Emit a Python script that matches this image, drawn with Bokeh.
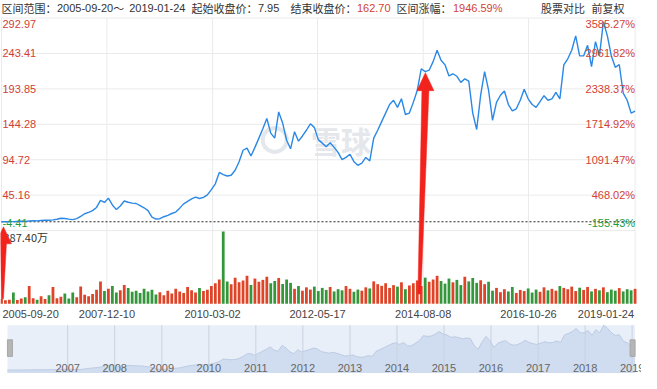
import pandas as pd
from bokeh.plotting import figure
from bokeh.models import Range1d
from bokeh.core.properties import value
from bokeh.embed import file_html
from bokeh.resources import INLINE

# ---------------- data ----------------
START_DATE = "2005-09-20"
END_DATE = "2019-01-24"
START_CLOSE = "7.95"
END_CLOSE = "162.70"
RANGE_PCT = "1946.59%"

# monthly closes (2005-09 ... 2019-01)
PRICE = [
    7.95, 8.0, 8.2, 8.1, 8.4, 8.6, 8.5, 9.0, 9.3, 9.2,
    9.8, 10.2, 10.0, 10.6, 11.5, 12.9, 12.5, 11.6, 11.0, 12.4,
    15.5, 19.2, 21.0, 23.5, 28.0, 38.0, 35.0, 41.0, 31.5, 25.0,
    30.0, 37.0, 35.2, 34.0, 33.5, 30.5, 27.5, 23.5, 14.5, 11.8,
    12.2, 15.0, 17.0, 19.5, 21.5, 27.0, 33.0, 36.5, 40.0, 42.5,
    40.5, 42.0, 45.6, 53.0, 61.0, 77.0, 74.0, 72.0, 73.0, 80.0,
    92.0, 108.0, 111.0, 100.0, 112.0, 125.0, 138.0, 152.5, 132.0, 125.0,
    161.6, 146.0, 122.0, 110.0, 134.0, 120.7, 128.0, 136.0, 145.0, 140.0,
    122.9, 118.0, 113.0, 118.4, 112.0, 105.0, 95.0, 98.0, 102.4, 92.0,
    87.0, 90.0, 98.0, 93.0, 125.0, 136.0, 148.0, 160.0, 172.0, 178.0,
    168.0, 180.0, 158.0, 160.0, 175.0, 192.0, 222.0, 218.0, 220.0, 232.0,
    248.0, 234.0, 227.5, 212.0, 215.0, 211.5, 203.0, 208.0, 204.7, 160.0,
    137.0, 185.0, 218.0, 192.0, 150.0, 175.0, 185.0, 191.0, 172.0, 163.0,
    166.0, 178.0, 193.4, 180.0, 172.0, 168.0, 176.0, 184.3, 178.0, 180.0,
    189.0, 180.0, 227.5, 236.0, 248.0, 268.0, 240.0, 240.0, 254.8, 225.0,
    260.0, 240.0, 288.0, 268.0, 240.0, 224.0, 228.0, 188.0, 178.0, 160.0,
    162.70,
]

# volume (万)
VOLUME = [
    25, 18, 22, 60, 20, 28, 35, 95, 30, 22, 40, 26, 45, 90, 30, 38, 55, 28, 60, 35, 92, 48, 40, 52,
    75, 120, 68, 80, 95, 60, 72, 100, 85, 64, 70, 58, 80, 66, 75,
    50, 62, 45, 70, 55, 80, 66, 58, 90, 72, 60, 85, 68, 75,
    95, 110, 130, 387.4, 120, 105, 140, 115, 125, 150, 100, 135, 118, 128, 145, 110, 122, 138, 106, 130, 112,
    80, 95, 70, 88, 76, 92, 68, 85, 74, 90, 66, 78, 72, 95, 80, 64, 76, 70, 88, 82,
    120, 105, 96, 110, 85, 100, 92, 115, 78, 98,
    110, 125, 95, 140, 118, 130, 150, 122, 108, 135, 115, 128, 100, 145, 120, 138, 112, 126, 105, 118,
    70, 85, 62, 78, 66, 90, 58, 74, 68, 82, 60, 76, 64, 88, 72, 80, 70, 95, 85, 78,
    92, 68, 86, 74, 90, 66, 80, 72, 88, 62, 76, 70, 84, 66, 78, 72, 80,
]
VOL_MAX = 387.40
VOL_LABEL = "387.40万"

PRICE_TICKS = [292.97, 243.41, 193.85, 144.28, 94.72, 45.16, -4.41]
PRICE_LABELS = ["292.97", "243.41", "193.85", "144.28", "94.72", "45.16", "-4.41"]
PCT_LABELS = ["3585.27%", "2961.82%", "2338.37%", "1714.92%", "1091.47%", "468.02%", "-155.43%"]
DATE_TICKS = ["2005-09-20", "2007-12-10", "2010-03-02", "2012-05-17",
              "2014-08-08", "2016-10-26", "2019-01-24"]
NAV_YEARS = [2007, 2008, 2009, 2010, 2011, 2012, 2013, 2014, 2015, 2016, 2017, 2018, 2019]
ARROW_DATES = ["2005-10-05", "2014-08-25"]

# ---------------- layout (pixels) ----------------
W, H = 641, 373


def cx(rx):
    return (rx - 4) * 0.99


def cy(ry):
    return (ry - 4) * 0.975


X_L, X_R, NAV_L = cx(5), cx(645), cx(11)
Y_TOP, Y_PBOT = cy(22), cy(240)
VOL_TOP, VOL_BASE = cy(241), cy(315)
XLAB_Y = cy(326)
NAV_TOP, NAV_BOT = cy(337), cy(387)
NAV_SER_TOP, NAV_SER_BOT = cy(337), cy(383)
HEAD_Y = cy(12)

RED = "#d23f34"
GREEN = "#1d9a43"
VRED = "#dc3a1c"
VGREEN = "#2a9130"
LINE = "#2a88e6"
GRID = "#ebebeb"
NUMF = value("Liberation Sans")
CJKF = value("Noto Sans CJK SC")

dates = pd.date_range(START_DATE, END_DATE, periods=len(PRICE))
d0 = pd.Timestamp(START_DATE).value / 1e6
d1 = pd.Timestamp(END_DATE).value / 1e6
P_TOP, P_BOT = PRICE_TICKS[0], PRICE_TICKS[-1]

mpp = (d1 - d0) / (X_R - X_L)
u = (P_TOP - P_BOT) / (Y_PBOT - Y_TOP)
uv = VOL_MAX / (VOL_BASE - VOL_TOP)
mppn = (d1 - d0) / (X_R - NAV_L)
pmin, pmax = min(PRICE), max(PRICE)
un = (pmax - pmin) / (NAV_SER_BOT - NAV_SER_TOP)


def date_px(d):
    return X_L + (pd.Timestamp(d).value / 1e6 - d0) / mpp


def price_py(v):
    return Y_TOP + (P_TOP - v) / u


def nav_px(d):
    return NAV_L + (pd.Timestamp(d).value / 1e6 - d0) / mppn


p = figure(width=W, height=H, output_backend="svg", toolbar_location=None,
           x_range=Range1d(d0 - X_L * mpp, d1 + (W - X_R) * mpp),
           y_range=Range1d(P_BOT - (H - Y_PBOT) * u, P_TOP + Y_TOP * u),
           x_axis_location=None, y_axis_location=None, min_border=0,
           outline_line_color=None, background_fill_color="white",
           border_fill_color="white", title=None)
p.grid.visible = False
p.extra_x_ranges = {
    "nav": Range1d(d0 - NAV_L * mppn, d1 + (W - X_R) * mppn),
    "px": Range1d(0, W),
}
p.extra_y_ranges = {
    "vol": Range1d(-(H - VOL_BASE) * uv, VOL_MAX + VOL_TOP * uv),
    "nav": Range1d(pmin - (H - NAV_SER_BOT) * un, pmax + NAV_SER_TOP * un),
    "py": Range1d(H, 0),
}

# ---------------- grid ----------------
p.segment(x0=[X_L] * len(PRICE_TICKS), x1=[X_R] * len(PRICE_TICKS),
          y0=[price_py(t) for t in PRICE_TICKS], y1=[price_py(t) for t in PRICE_TICKS],
          line_color=GRID, line_width=1, x_range_name="px", y_range_name="py")
vx = [date_px(d) for d in DATE_TICKS]
p.segment(x0=vx, x1=vx, y0=[Y_TOP] * len(vx), y1=[VOL_BASE] * len(vx),
          line_color=GRID, line_width=1, x_range_name="px", y_range_name="py")

# watermark
p.text(x=[cx(348)], y=[cy(147)], text=["雪球"], text_font=CJKF, text_font_size="30px",
       text_font_style="bold", text_color="#e4e7eb", text_align="center",
       text_baseline="middle", x_range_name="px", y_range_name="py")
p.scatter(x=[cx(281)], y=[cy(147)], marker="circle", size=24, fill_color=None,
          line_color="#e4e7eb", line_width=4, x_range_name="px", y_range_name="py")

# ---------------- volume ----------------
vcolors = [VRED] + [VRED if PRICE[i] >= PRICE[i - 1] else VGREEN for i in range(1, len(PRICE))]
month_ms = (d1 - d0) / (len(PRICE) - 1)
p.vbar(x=dates, top=VOLUME, bottom=0, width=month_ms * 0.7, fill_color=vcolors,
       line_color=None, fill_alpha=0.95, y_range_name="vol")

# ---------------- price ----------------
p.segment(x0=[pd.Timestamp(START_DATE)], x1=[pd.Timestamp(END_DATE)],
          y0=[float(START_CLOSE)], y1=[float(START_CLOSE)],
          line_color="#222222", line_width=1, line_dash="2 2")
p.line(x=dates, y=PRICE, line_color=LINE, line_width=1.4)

# axis labels (inside plot)
ly = []
for i, t in enumerate(PRICE_TICKS):
    y = price_py(t)
    if i == 0:
        y += 6
    elif i == len(PRICE_TICKS) - 1:
        y -= 8
    ly.append(y)
n = len(PRICE_TICKS)
p.text(x=[X_L + 1] * (n - 1), y=ly[:-1], text=PRICE_LABELS[:-1], text_font=NUMF,
       text_font_size="11px", text_color=RED, text_align="left", text_baseline="middle",
       x_range_name="px", y_range_name="py")
p.text(x=[X_L + 1], y=[ly[-1]], text=[PRICE_LABELS[-1]], text_font=NUMF,
       text_font_size="11px", text_color=GREEN, text_align="left", text_baseline="middle",
       x_range_name="px", y_range_name="py")
p.text(x=[X_R] * (n - 1), y=ly[:-1], text=PCT_LABELS[:-1], text_font=NUMF,
       text_font_size="11px", text_color=RED, text_align="right", text_baseline="middle",
       x_range_name="px", y_range_name="py")
p.text(x=[X_R], y=[ly[-1]], text=[PCT_LABELS[-1]], text_font=NUMF,
       text_font_size="11px", text_color=GREEN, text_align="right", text_baseline="middle",
       x_range_name="px", y_range_name="py")
p.text(x=[X_L + 2], y=[VOL_TOP + 5], text=[VOL_LABEL], text_font=CJKF,
       text_font_size="11px", text_color="#333333", text_align="left", text_baseline="middle",
       x_range_name="px", y_range_name="py")

# date labels
p.text(x=[vx[0] + 1], y=[XLAB_Y], text=[DATE_TICKS[0]], text_font=NUMF, text_font_size="11px",
       text_color="#444444", text_align="left", text_baseline="middle",
       x_range_name="px", y_range_name="py")
p.text(x=vx[1:-1], y=[XLAB_Y] * (len(vx) - 2), text=DATE_TICKS[1:-1], text_font=NUMF,
       text_font_size="11px", text_color="#444444", text_align="center", text_baseline="middle",
       x_range_name="px", y_range_name="py")
p.text(x=[vx[-1] - 1], y=[XLAB_Y], text=[DATE_TICKS[-1]], text_font=NUMF, text_font_size="11px",
       text_color="#444444", text_align="right", text_baseline="middle",
       x_range_name="px", y_range_name="py")

# ---------------- header ----------------
head_parts = [
    (5, "区间范围：", CJKF, "#333333"),
    (61, START_DATE, NUMF, "#333333"),
    (118, "～", CJKF, "#333333"),
    (134, END_DATE, NUMF, "#333333"),
    (197, "起始收盘价：", CJKF, "#333333"),
    (264, START_CLOSE, NUMF, "#333333"),
    (297, "结束收盘价：", CJKF, "#333333"),
    (364, END_CLOSE, NUMF, RED),
    (404, "区间涨幅：", CJKF, "#333333"),
    (461, RANGE_PCT, NUMF, RED),
    (550, "股票对比", CJKF, "#333333"),
    (601, "前复权", CJKF, "#333333"),
]
for hx, txt, fnt, col in head_parts:
    p.text(x=[cx(hx)], y=[HEAD_Y], text=[txt], text_font=fnt, text_font_size="11px",
           text_color=col, text_align="left", text_baseline="middle",
           x_range_name="px", y_range_name="py")

# ---------------- navigator ----------------
p.quad(left=[NAV_L], right=[X_R], top=[NAV_TOP], bottom=[NAV_BOT], fill_color="#e8eff9",
       line_color=None, x_range_name="px", y_range_name="py")
p.varea(x=dates, y1=pmin - (H - NAV_SER_BOT) * un, y2=PRICE, fill_color="#d0ddf0",
        x_range_name="nav", y_range_name="nav")
p.line(x=dates, y=PRICE, line_color="#bccbe3", line_width=1,
       x_range_name="nav", y_range_name="nav")
ny = [nav_px(f"{yr}-01-01") for yr in NAV_YEARS]
p.segment(x0=ny, x1=ny, y0=[NAV_TOP] * len(ny), y1=[NAV_BOT] * len(ny),
          line_color="#c8d2df", line_width=1, x_range_name="px", y_range_name="py")
p.text(x=ny, y=[cy(381)] * len(ny), text=[str(yr) for yr in NAV_YEARS], text_font=NUMF,
       text_font_size="11px", text_color="#666666", text_align="center",
       text_baseline="middle", x_range_name="px", y_range_name="py")
p.quad(left=[NAV_L, X_R - 5], right=[NAV_L + 5, X_R], top=[cy(352)] * 2,
       bottom=[cy(369)] * 2, fill_color="#b5b5b5", line_color="#a8a8a8",
       x_range_name="px", y_range_name="py")

# ---------------- red arrows ----------------
ARROW_RED = "#f2231d"
arrow_specs = [
    (ARROW_DATES[0], price_py(float(START_CLOSE)) + 5, 8, 17, 3, cy(310), -1, 1),
    (ARROW_DATES[1], cy(78), 8.5, 18, 3.5, cy(305), -6, 1.5),
]
xs, ys = [], []
for d, tip_y, hw, hh, sw, tail_y, dx, bw in arrow_specs:
    tx = date_px(d)
    by = tip_y + hh
    bx = tx + dx
    xs.append([tx, tx + hw, tx + sw, bx + bw, bx - bw, tx - sw, tx - hw])
    ys.append([tip_y, by, by, tail_y, tail_y, by, by])
p.patches(xs=xs, ys=ys, fill_color=ARROW_RED, line_color=ARROW_RED, line_width=0.5,
          x_range_name="px", y_range_name="py")

open("out.html", "w").write(file_html(p, INLINE))
